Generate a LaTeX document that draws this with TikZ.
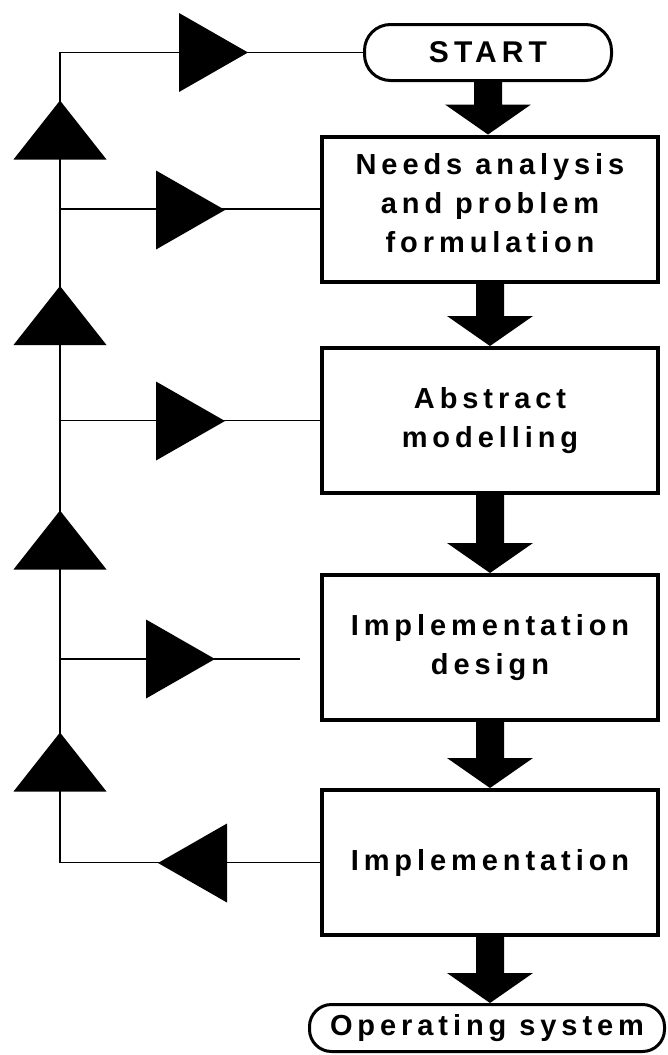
\documentclass[tikz,border=0pt]{standalone}
\usepackage{fontspec}
\newfontfamily\labfont{Liberation Sans}[LetterSpace=17]
\usetikzlibrary{calc}
\newcommand\fatarrow[2]{\fill let \p1=(#1.south), \p2=(#2.north) in
  (\x1-14pt,\y1) -- (\x1-14pt,\y2+30pt) -- (\x1-43pt,\y2+30pt) -- (\x1,\y2)
  -- (\x1+43pt,\y2+30pt) -- (\x1+14pt,\y2+30pt) -- (\x1+14pt,\y1) -- cycle;}
\begin{document}
\begin{tikzpicture}[x=1pt,y=-1pt,
  lab/.style={font=\labfont\bfseries\fontsize{29}{39}\selectfont, align=center, inner sep=0pt},
  stepbox/.style={lab, draw, line width=4pt, minimum width=336pt, minimum height=145pt},
  term/.style={lab, draw, line width=3pt},
  thinline/.style={line width=1.2pt},
  htri/.pic={\fill (-34.5,-39.5) -- (34.5,0) -- (-34.5,39.5) -- cycle;},
  vtri/.pic={\fill (-46.5,29.5) -- (0,-29.5) -- (46.5,29.5) -- cycle;},
]
\useasboundingbox (0,0) rectangle (668,1055);
% flow boxes
\node[term, rounded corners=26pt, minimum width=247pt, minimum height=56pt,
      font=\labfont\bfseries\fontsize{30}{39}\selectfont] (start) at (488,52.5) {START};
\node[stepbox] (b1) at (490,209) {Needs analysis\\and problem\\formulation\\[-27pt]\mbox{}};
\node[stepbox] (b2) at (490,420.5) {Abstract\\modelling};
\node[stepbox] (b3) at (490,647.5) {Implementation\\design};
\node[stepbox] (b4) at (490,862.5) {Implementation};
\node[term, rounded corners=22pt, minimum width=355pt, minimum height=47pt] (os) at (487,1028) {Operating system};
% fat arrows
\fatarrow{start}{b1}
\fatarrow{b1}{b2}
\fatarrow{b2}{b3}
\fatarrow{b3}{b4}
\fatarrow{b4}{os}
% feedback lines
\coordinate (bl) at (60,862.5);
\coordinate (e3) at (300,659);
\draw[thinline] (b4.west) -- (bl) -- (bl |- start.west) -- (start.west);
\draw[thinline] (b1.west) -- (b1.west -| bl);
\draw[thinline] (b2.west) -- (b2.west -| bl);
\draw[thinline] (e3) -- (e3 -| bl);
% triangles
\pic at (213.5,52.5) {htri};
\pic at (190.5,210) {htri};
\pic at (190.5,421) {htri};
\pic at (180.5,659) {htri};
\pic[rotate=180] at (192.5,863) {htri};
\pic at (60,130) {vtri};
\pic at (60,315.5) {vtri};
\pic at (60,540) {vtri};
\pic at (60,762) {vtri};
\end{tikzpicture}
\end{document}
